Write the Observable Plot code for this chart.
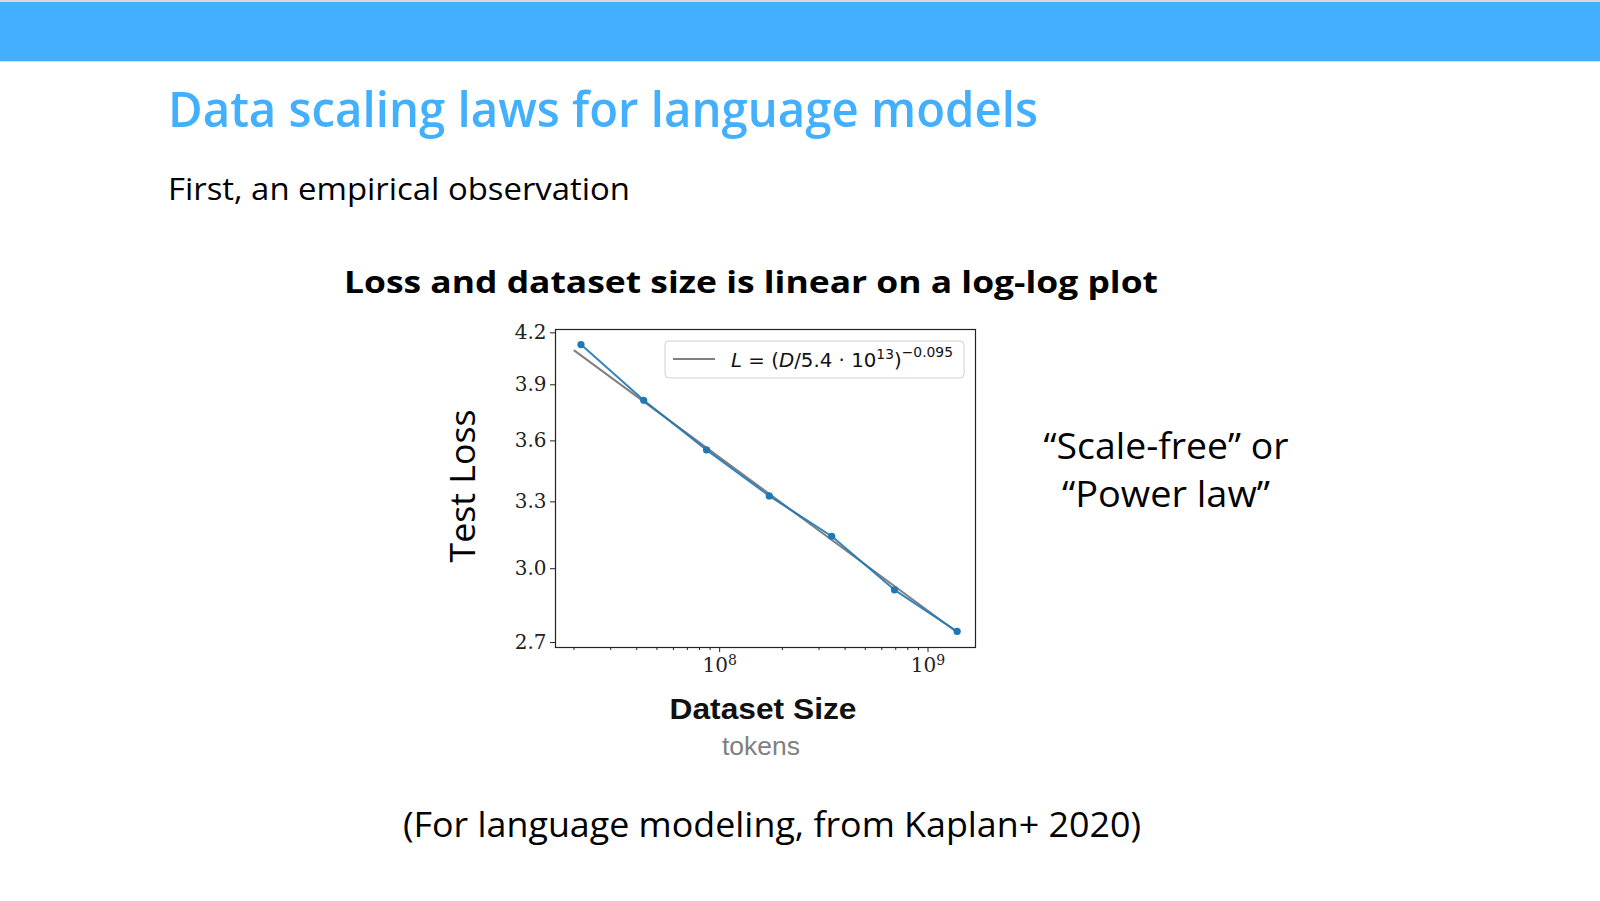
<!DOCTYPE html>
<html>
<head>
<meta charset="utf-8">
<script src="https://cdn.jsdelivr.net/npm/d3@7"></script>
<script src="https://cdn.jsdelivr.net/npm/@observablehq/plot@0.6"></script>
<style>
  html, body { margin: 0; padding: 0; width: 1600px; height: 901px; overflow: hidden; background: #fff; }
  #band { position: absolute; left: 0; top: 0; width: 1600px; height: 59px; background: #42AFFF;
          border-top: 2px solid #d9d9d9; border-bottom: 1px solid #dcdcdc; }
  #chart { position: absolute; left: 495px; top: 315px; }
  #overlay { position: absolute; left: 0; top: 0; pointer-events: none; }
  .os { font-family: "Open Sans", "Noto Sans", sans-serif; }
</style>
</head>
<body>
<div id="band"></div>
<div id="chart"></div>
<svg id="overlay" width="1600" height="901" xmlns="http://www.w3.org/2000/svg">
  <text class="os" x="168" y="127" font-size="49" font-weight="600" fill="#42AFFF" textLength="870" lengthAdjust="spacingAndGlyphs">Data scaling laws for language models</text>
  <text class="os" x="168" y="200" font-size="31" fill="#000" textLength="462" lengthAdjust="spacingAndGlyphs">First, an empirical observation</text>
  <text class="os" x="344" y="293" font-size="31" font-weight="700" fill="#000" textLength="814" lengthAdjust="spacingAndGlyphs">Loss and dataset size is linear on a log-log plot</text>
  <text class="os" transform="translate(475,486) rotate(-90)" text-anchor="middle" font-size="34" fill="#000" textLength="153" lengthAdjust="spacingAndGlyphs">Test Loss</text>
  <text x="763" y="719" text-anchor="middle" font-family="Liberation Sans, Arial, sans-serif" font-weight="700" font-size="30" fill="#111" textLength="187" lengthAdjust="spacingAndGlyphs">Dataset Size</text>
  <text x="761" y="755" text-anchor="middle" font-family="Liberation Sans, Arial, sans-serif" font-size="25" fill="#808080" textLength="78" lengthAdjust="spacingAndGlyphs">tokens</text>
  <text class="os" x="1166" y="459" text-anchor="middle" font-size="36" fill="#000" textLength="245" lengthAdjust="spacingAndGlyphs">“Scale-free” or</text>
  <text class="os" x="1166" y="507" text-anchor="middle" font-size="36" fill="#000" textLength="208" lengthAdjust="spacingAndGlyphs">“Power law”</text>
  <text class="os" x="403" y="837" font-size="35" fill="#000" textLength="738" lengthAdjust="spacingAndGlyphs">(For language modeling, from Kaplan+ 2020)</text>
  <g id="legend">
    <rect x="665" y="341" width="299" height="37" rx="4" fill="#fff" fill-opacity="0.9" stroke="#d0d0d0" stroke-width="1"/>
    <line x1="673" x2="715" y1="359" y2="359" stroke="#808080" stroke-width="2"/>
    <text x="731" y="367" font-family="DejaVu Sans, sans-serif" font-size="20" fill="#111" textLength="222" lengthAdjust="spacingAndGlyphs"><tspan font-style="italic">L</tspan> = (<tspan font-style="italic">D</tspan>/5.4 · 10<tspan font-size="14" dy="-8">13</tspan><tspan dy="8">)</tspan><tspan font-size="14" dy="-10">−0.095</tspan></text>
  </g>
</svg>
<script>
// Data
const datasetSize = [2.16e7, 4.32e7, 8.65e7, 1.73e8, 3.45e8, 6.9e8, 1.38e9];
const testLoss    = [4.13, 3.815, 3.554, 3.328, 3.142, 2.911, 2.743];
// Fitted power-law line (endpoints)
const fitSize = [2.01e7, 1.38e9];
const fitLoss = [4.095, 2.74];
// Axis ticks
const xMajorTicks = [1e8, 1e9];
const xMinorTicks = [2e7, 3e7, 4e7, 5e7, 6e7, 7e7, 8e7, 9e7, 2e8, 3e8, 4e8, 5e8, 6e8, 7e8, 8e8, 9e8];
const xTickBase = "10";
const xTickExponents = {1e8: "8", 1e9: "9"};
const yTicks = [2.7, 3.0, 3.3, 3.6, 3.9, 4.2];

const points = datasetSize.map((d, i) => ({size: d, loss: testLoss[i]}));
const fit = fitSize.map((d, i) => ({size: d, loss: fitLoss[i]}));

const chart = Plot.plot({
  width: 500,
  height: 370,
  marginLeft: 60,
  marginRight: 20,
  marginTop: 14,
  marginBottom: 38,
  style: {fontFamily: "DejaVu Serif, serif", fontSize: "19px", color: "#222", background: "transparent", overflow: "visible"},
  x: {type: "log", domain: [1.63e7, 1.69e9]},
  y: {type: "log", domain: [2.681, 4.22]},
  marks: [
    Plot.frame({stroke: "#222", strokeWidth: 1.2}),
    Plot.axisY({ticks: yTicks, tickFormat: d3.format(".1f"), tickSize: 5, tickPadding: 4, label: null, fontSize: 20}),
    Plot.axisX({ticks: xMinorTicks, tickFormat: () => "", tickSize: 3, label: null}),
    Plot.axisX({ticks: xMajorTicks, tickFormat: d => xTickBase + "^" + xTickExponents[d], tickSize: 5, tickPadding: 5, label: null, fontSize: 20}),
    Plot.line(fit, {x: "size", y: "loss", stroke: "#808080", strokeWidth: 2}),
    Plot.line(points, {x: "size", y: "loss", stroke: "#1f77b4", strokeWidth: 2, strokeOpacity: 0.9}),
    Plot.dot(points, {x: "size", y: "loss", r: 3.6, fill: "#1f77b4", stroke: "none"})
  ]
});
// Render "10^8" style labels with a real superscript
d3.select(chart).selectAll("text").each(function () {
  const t = this.textContent;
  const m = /^(\d+)\^(\d+)$/.exec(t);
  if (!m) return;
  const sel = d3.select(this);
  sel.text(null);
  sel.append("tspan").text(m[1]);
  sel.append("tspan").attr("font-size", "14").attr("dy", "-0.45em").text(m[2]);
});
document.getElementById("chart").appendChild(chart);
</script>
</body>
</html>
